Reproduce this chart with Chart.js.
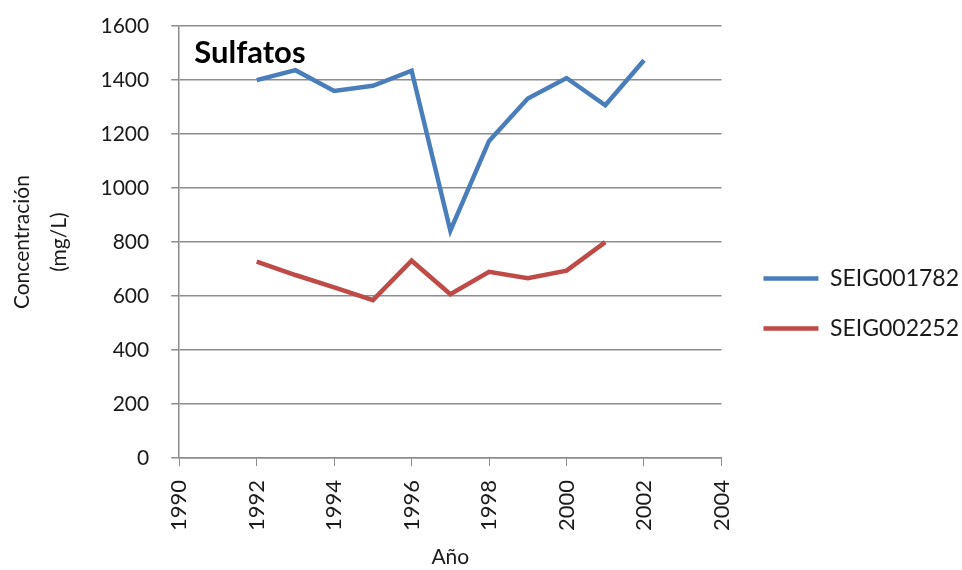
<!DOCTYPE html>
<html>
<head>
<meta charset="utf-8">
<script src="https://cdn.jsdelivr.net/npm/chart.js@4"></script>
<style>
    html, body { margin: 0; padding: 0; background: #fff; }
    #wrap { width: 962px; height: 570px; }
</style>
</head>
<body>
<div id="wrap"><canvas id="sulfatosChart"></canvas></div>
<script>
const blueYears = [1992, 1993, 1994, 1995, 1996, 1997, 1998, 1999, 2000, 2001, 2002];
const blueValues = [1400, 1437, 1360, 1379, 1435, 842, 1175, 1332, 1408, 1307, 1474];

const redYears = [1992, 1993, 1994, 1995, 1996, 1997, 1998, 1999, 2000, 2001];
const redValues = [728, 678, 632, 585, 731, 607, 690, 666, 694, 800];

const seriesNames = ["SEIG001782", "SEIG002252"];
const xTicks = [1990, 1992, 1994, 1996, 1998, 2000, 2002, 2004];
const yTicks = [0, 200, 400, 600, 800, 1000, 1200, 1400, 1600];

const FONT = "Lato, 'Open Sans', sans-serif";
const textColor = "#1a1a1a";
const gridColor = "#8c8c8c";
const legendPad = 27;

function toPoints(xs, ys) {
    return xs.map((x, i) => ({ x: x, y: ys[i] }));
}

// "Sulfatos" label inside the plot area
const innerTitle = {
    id: "innerTitle",
    afterDraw(chart) {
        const { ctx, chartArea } = chart;
        ctx.save();
        ctx.font = "bold 31px " + FONT;
        ctx.fillStyle = "#000";
        ctx.textBaseline = "middle";
        ctx.fillText("Sulfatos", chartArea.left + 15, chartArea.top + 27);
        ctx.restore();
    }
};

// push the legend items a bit further from the plot, like the original
const legendShift = {
    id: "legendShift",
    afterLayout(chart) {
        const shift = 42 - legendPad;
        chart.legend.left += shift;
        chart.legend.right += shift;
    }
};

const ctx = document.getElementById("sulfatosChart").getContext("2d");

new Chart(ctx, {
    type: "line",
    data: {
        datasets: [
            {
                label: seriesNames[0],
                data: toPoints(blueYears, blueValues),
                borderColor: "#4a7ebb",
                backgroundColor: "#4a7ebb",
                borderWidth: 4.5,
                pointRadius: 0,
                tension: 0
            },
            {
                label: seriesNames[1],
                data: toPoints(redYears, redValues),
                borderColor: "#be4b48",
                backgroundColor: "#be4b48",
                borderWidth: 4.5,
                pointRadius: 0,
                tension: 0
            }
        ]
    },
    options: {
        responsive: true,
        maintainAspectRatio: false,
        animation: false,
        layout: {
            padding: { top: 2, left: 4, right: 8, bottom: 2 }
        },
        plugins: {
            legend: {
                position: "right",
                title: {
                    display: true,
                    text: " ",
                    font: { size: 4 },
                    padding: { top: 0, bottom: 32 }
                },
                labels: {
                    boxWidth: 55,
                    boxHeight: 0,
                    padding: legendPad,
                    color: textColor,
                    font: { family: FONT, size: 23 }
                }
            },
            tooltip: { enabled: false }
        },
        scales: {
            x: {
                type: "linear",
                min: 1990,
                max: 2004,
                afterBuildTicks: axis => {
                    axis.ticks = xTicks.map(v => ({ value: v }));
                },
                ticks: {
                    minRotation: 90,
                    maxRotation: 90,
                    padding: 14,
                    color: textColor,
                    font: { family: FONT, size: 22 },
                    callback: v => String(v)
                },
                grid: {
                    drawOnChartArea: false,
                    drawTicks: true,
                    tickLength: 8,
                    color: gridColor
                },
                border: { color: gridColor, width: 1.5 },
                title: {
                    display: true,
                    text: "Año",
                    color: textColor,
                    font: { family: FONT, size: 21, lineHeight: 1.0 },
                    padding: { top: 2, bottom: 0 }
                }
            },
            y: {
                min: 0,
                max: 1600,
                afterBuildTicks: axis => {
                    axis.ticks = yTicks.map(v => ({ value: v }));
                },
                ticks: {
                    padding: 22,
                    color: textColor,
                    font: { family: FONT, size: 21, lineHeight: 0.4 },
                    callback: v => String(v)
                },
                grid: {
                    color: gridColor,
                    lineWidth: 1.5,
                    tickLength: 8
                },
                border: { color: gridColor, width: 1.5 },
                title: {
                    display: true,
                    text: ["Concentración", "(mg/L)"],
                    color: textColor,
                    font: { family: FONT, size: 21, lineHeight: 1.75 },
                    padding: { top: 0, bottom: 1 }
                }
            }
        }
    },
    plugins: [innerTitle, legendShift]
});
</script>
</body>
</html>
